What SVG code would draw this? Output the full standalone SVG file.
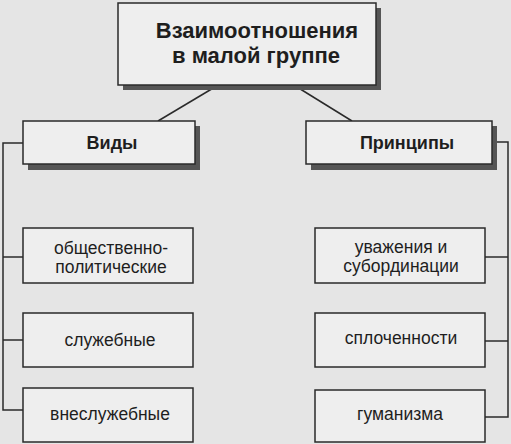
<svg xmlns="http://www.w3.org/2000/svg" width="511" height="444" viewBox="0 0 511 444">
<style>
.box{fill:#eeeeee;stroke:#2a2a2a;stroke-width:1.5}
.shadow{fill:#555555}
.line{fill:none;stroke:#2a2a2a;stroke-width:1.5}
.t{font-family:"Liberation Sans",Arial,sans-serif;fill:#1e1e1e;text-anchor:middle}
.b{font-weight:bold}
.h{font-size:22px}
.m{font-size:18px}
.s{font-size:17.5px}
</style>
<rect width="511" height="444" fill="#e5e5e5"/>
<g id="connectors">
<line class="line" x1="215" y1="87" x2="158" y2="121"/>
<line class="line" x1="297" y1="87" x2="352" y2="121"/>
<polyline class="line" points="23,143 3,143 3,410 23,410"/>
<line class="line" x1="3" y1="257" x2="23" y2="257"/>
<line class="line" x1="3" y1="340" x2="23" y2="340"/>
<polyline class="line" points="492,142 508,142 508,417 485,417"/>
<line class="line" x1="485" y1="257" x2="508" y2="257"/>
<line class="line" x1="485" y1="341" x2="508" y2="341"/>
</g>
<g id="root">
<rect class="shadow" x="123" y="8" width="258" height="82"/>
<rect class="box" x="118" y="3" width="258" height="82"/>
<text class="t b h" x="257" y="38">Взаимоотношения</text>
<text class="t b h" x="256" y="63">в малой группе</text>
</g>
<g id="vidy">
<rect class="shadow" x="28" y="126" width="172" height="44"/>
<rect class="box" x="23" y="121" width="172" height="43"/>
<text class="t b m" x="112" y="149">Виды</text>
</g>
<g id="principy">
<rect class="shadow" x="311" y="126" width="186" height="44"/>
<rect class="box" x="306" y="121" width="186" height="43"/>
<text class="t b m" x="407" y="149">Принципы</text>
</g>
<g id="v1">
<rect class="box" x="23" y="228" width="170" height="55"/>
<text class="t s" x="111" y="254">общественно-</text>
<text class="t s" x="111" y="273">политические</text>
</g>
<g id="v2">
<rect class="box" x="23" y="313" width="170" height="54"/>
<text class="t s" x="110" y="346">служебные</text>
</g>
<g id="v3">
<rect class="box" x="23" y="388" width="170" height="54"/>
<text class="t s" x="110" y="420">внеслужебные</text>
</g>
<g id="p1">
<rect class="box" x="315" y="228" width="170" height="55"/>
<text class="t s" x="401" y="253">уважения и</text>
<text class="t s" x="401" y="272">субординации</text>
</g>
<g id="p2">
<rect class="box" x="315" y="313" width="170" height="54"/>
<text class="t s" x="401" y="344">сплоченности</text>
</g>
<g id="p3">
<rect class="box" x="315" y="390" width="170" height="52"/>
<text class="t s" x="400" y="420">гуманизма</text>
</g>
</svg>
